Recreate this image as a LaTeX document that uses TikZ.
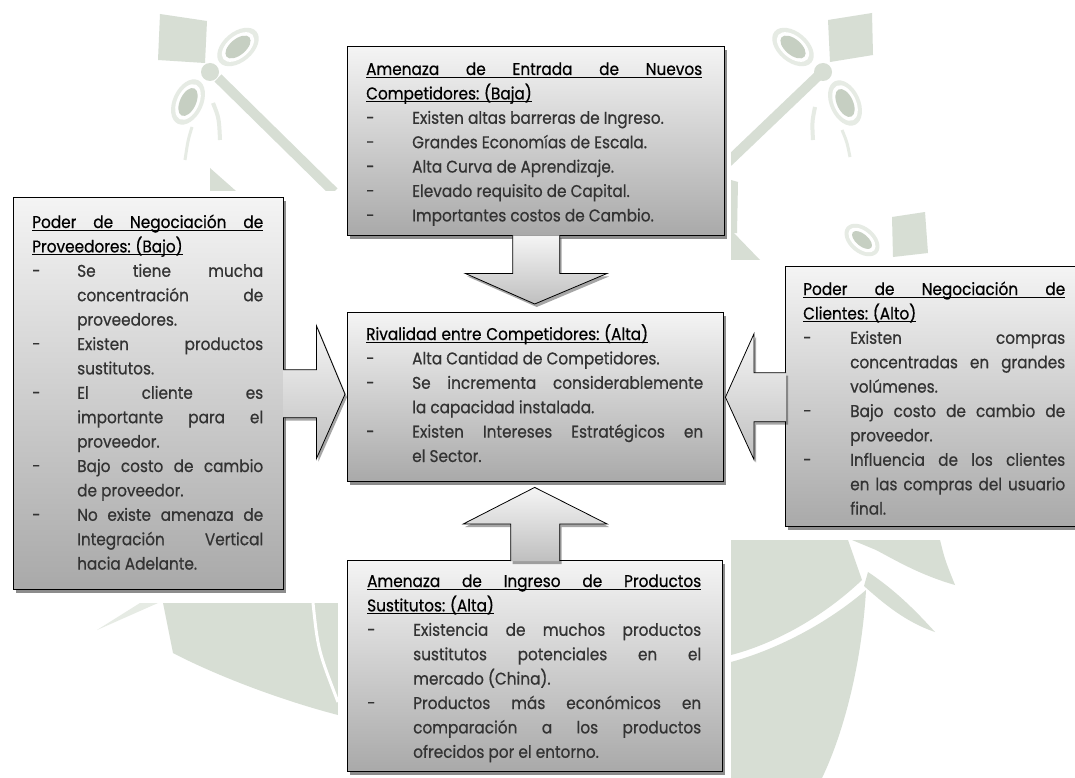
\documentclass[tikz,border=0pt]{standalone}
\usepackage{fontspec}
\setmainfont{Poppins}[FakeStretch=0.9, FakeBold=0.6]
\usetikzlibrary{calc,shadows}

\definecolor{wmgreen}{HTML}{D7DED4}
\definecolor{wmlight}{HTML}{E6EBE4}
\definecolor{wmdark}{HTML}{C6CFC2}
\definecolor{txtgray}{HTML}{333333}
\definecolor{boxtop}{HTML}{F4F4F4}
\definecolor{boxbot}{HTML}{A9A9A9}

% underlined heading whose word gaps stretch with justification
\newcommand\ulw[1]{\setbox0\hbox{#1}\rlap{\rule[-3pt]{\wd0}{1pt}}\box0}
\newcommand\ulsp{\leaders\hrule height -2pt depth 3pt\hskip 0.28em plus 1em minus 0.05em}
\def\ultitle#1{\leavevmode\ulloop#1 \ulend}
\def\ulloop#1 #2\ulend{\ulw{#1}\if\relax\detokenize{#2}\relax\else\ulsp\ulloop#2\ulend\fi}
\newcommand\heading[1]{\noindent{\color{black}#1}\par}

% hanging list item: dash at the margin, text indented
\newlength\dashw
\newcommand\itm[1]{\noindent\hangindent=\dashw\hangafter=1\makebox[\dashw][l]{-}#1\par}

\tikzset{
  panel/.style={draw=black, line width=1.4pt, top color=boxtop, bottom color=boxbot,
    inner sep=0pt, anchor=north west,
    drop shadow={shadow xshift=2pt, shadow yshift=-3pt, opacity=.45, fill=black}},
  paneltext/.style={anchor=base west, inner sep=0pt, align=justify,
    font=\fontsize{17}{24.4}\selectfont, text=txtgray},
  blockarrow/.style={top color=gray!8, bottom color=gray!50, draw=black,
    line width=0.8pt, line join=miter,
    preaction={fill=black, opacity=.35, transform canvas={xshift=2pt, yshift=-3pt}}},
}

\begin{document}
\begin{tikzpicture}[x=1pt, y=-1pt]
\useasboundingbox (0,0) rectangle (1075,778);
\fill[white] (0,0) rectangle (1075,778);

% ---- background emblem ----
% upper left
\fill[wmgreen] (160,14) -- (207,21) -- (205,63) -- (158,60) -- cycle;
\draw[wmgreen, line width=10pt] (218,78) -- (334,192);
\fill[wmgreen] (210,72) circle [radius=9pt];
\fill[wmlight, rotate around={40:(238,47)}] (238,47) ellipse [x radius=24pt, y radius=15pt];
\fill[white, rotate around={40:(238,47)}] (238,47) ellipse [x radius=19pt, y radius=11pt];
\fill[wmdark, rotate around={40:(238,47)}] (238,47) ellipse [x radius=15pt, y radius=8pt];
\fill[wmlight, rotate around={65:(188,102)}] (188,102) ellipse [x radius=24pt, y radius=15pt];
\fill[white, rotate around={65:(188,102)}] (188,102) ellipse [x radius=19pt, y radius=11pt];
\fill[wmdark, rotate around={65:(188,102)}] (188,102) ellipse [x radius=15pt, y radius=8pt];
\draw[wmlight, line width=4pt] (213,103) .. controls (219,118) .. (220,140);
\draw[wmlight, line width=3pt] (192,127) .. controls (188,140) .. (185,160);
\fill[wmgreen] (210,168) -- (236,191) -- (210,191) -- cycle;
% upper right
\fill[wmgreen] (828,20) -- (872,13) -- (873,55) -- (830,62) -- cycle;
\draw[wmgreen, line width=10pt] (818,76) -- (728,162);
\fill[wmgreen] (823,72) circle [radius=9pt];
\fill[wmlight, rotate around={-40:(793,47)}] (793,47) ellipse [x radius=24pt, y radius=15pt];
\fill[white, rotate around={-40:(793,47)}] (793,47) ellipse [x radius=19pt, y radius=11pt];
\fill[wmdark, rotate around={-40:(793,47)}] (793,47) ellipse [x radius=15pt, y radius=8pt];
\fill[wmlight, rotate around={-65:(845,103)}] (845,103) ellipse [x radius=24pt, y radius=15pt];
\fill[white, rotate around={-65:(845,103)}] (845,103) ellipse [x radius=19pt, y radius=11pt];
\fill[wmdark, rotate around={-65:(845,103)}] (845,103) ellipse [x radius=15pt, y radius=8pt];
\draw[wmlight, line width=4pt] (815,107) .. controls (812,122) .. (813,140);
\draw[wmlight, line width=3pt] (842,130) .. controls (847,142) .. (850,157);
\fill[wmgreen] (731,180) -- (738,182) -- (737,233) -- (731,233) -- cycle;
\fill[wmgreen] (892,217) -- (925,212) -- (928,253) -- (893,257) -- cycle;
\fill[wmlight, rotate around={-40:(862,240)}] (862,240) ellipse [x radius=20pt, y radius=13pt];
\fill[white, rotate around={-40:(862,240)}] (862,240) ellipse [x radius=16pt, y radius=9pt];
\fill[wmdark, rotate around={-40:(862,240)}] (862,240) ellipse [x radius=12pt, y radius=6pt];
\fill[wmgreen] (731,230) -- (760,260) -- (731,260) -- cycle;
% lower left
\fill[wmgreen] (163,603) -- (338,603) -- (338,715)
  .. controls (280,700) and (215,675) .. (173,653) -- cycle;
\draw[white, line width=3pt] (313,603) .. controls (318,650) .. (338,702);
\fill[wmlight] (97,630) -- (140,603) -- (158,603) -- cycle;
% lower right
\fill[wmgreen] (731,540) -- (848,540) .. controls (855,560) .. (862,580)
  .. controls (820,620) and (770,645) .. (731,655) -- cycle;
\fill[wmgreen] (731,662) .. controls (775,650) and (825,625) .. (866,590)
  .. controls (862,660) and (845,730) .. (822,778) -- (731,778) -- cycle;
\fill[wmgreen] (852,540) -- (940,540) .. controls (945,560) .. (955,585)
  .. controls (920,575) and (895,560) .. (876,550) -- cycle;
\fill[wmgreen] (868,572) .. controls (895,590) and (915,610) .. (935,632)
  .. controls (905,622) and (882,602) .. (864,586) -- cycle;

% white sheet carrying the diagram
\fill[white] (338,0) rectangle (731,778);
\fill[white] (0,191) rectangle (338,603);
\fill[white] (731,260) rectangle (1075,540);

% ---- panels ----
\node[panel, minimum width=377pt, minimum height=189pt] (top) at (347,46) {};
\node[panel, minimum width=376pt, minimum height=169pt] (center) at (347,312) {};
\node[panel, minimum width=375pt, minimum height=211pt] (bottom) at (347,560) {};
\node[panel, minimum width=270pt, minimum height=392pt] (left) at (13,197) {};
\node[panel, minimum width=297pt, minimum height=260pt] (right) at (785,266) {};

% ---- block arrows ----
% top -> center
\coordinate (tH) at ($(top.south)+(0,37)$);
\coordinate (tA) at ($(top.south)+(-23.5,-1)$);
\coordinate (tB) at ($(top.south)+(23.5,-1)$);
\path[blockarrow] (tA) -- (tA |- tH) -- ($(tH)+(-71,0)$) -- ($(center.north)+(-1,-8)$)
  -- ($(tH)+(71,0)$) -- (tB |- tH) -- (tB);
% bottom -> center
\coordinate (bH) at ($(bottom.north)+(0,-36)$);
\coordinate (bA) at ($(bottom.north)+(-24.5,1)$);
\coordinate (bB) at ($(bottom.north)+(24.5,1)$);
\path[blockarrow] (bA) -- (bA |- bH) -- ($(bH)+(-72,0)$) -- ($(center.south)+(-1,5)$)
  -- ($(bH)+(72,0)$) -- (bB |- bH) -- (bB);
% left -> center
\coordinate (lH) at ($(left.east)+(32,0)$);
\coordinate (lA) at ($(left.east)+(-1,-24)$);
\coordinate (lB) at ($(left.east)+(-1,24)$);
\path[blockarrow] (lA) -- (lA -| lH) -- ($(lH)+(0,-68)$) -- ($(center.west)+(-2,-3)$)
  -- ($(lH)+(0,65)$) -- (lB -| lH) -- (lB);
% right -> center
\coordinate (rH) at ($(right.west)+(-31,0)$);
\coordinate (rA) at ($(right.west)+(1,-24)$);
\coordinate (rB) at ($(right.west)+(1,25)$);
\path[blockarrow] (rA) -- (rA -| rH) -- ($(rH)+(0,-63)$) -- ($(center.east)+(1,0)$)
  -- ($(rH)+(0,63)$) -- (rB -| rH) -- (rB);

% ---- panel texts ----
\setlength\dashw{46pt}
\node[paneltext, text width=336pt] (toptext) at (366,75) {%
  \heading{\ultitle{Amenaza de Entrada de Nuevos}\linebreak \ultitle{Competidores: (Baja)}}%
  \itm{Existen altas barreras de Ingreso.}%
  \itm{Grandes Economías de Escala.}%
  \itm{Alta Curva de Aprendizaje.}%
  \itm{Elevado requisito de Capital.}%
  \itm{Importantes costos de Cambio.}};

\node[paneltext, text width=337pt] (centertext) at (366,340) {%
  \heading{\ultitle{Rivalidad entre Competidores: (Alta)}}%
  \itm{Alta Cantidad de Competidores.}%
  \itm{Se incrementa considerablemente\linebreak la capacidad instalada.}%
  \itm{Existen Intereses Estratégicos en\linebreak el Sector.}};

\node[paneltext, text width=334pt] (bottomtext) at (367,587) {%
  \heading{\ultitle{Amenaza de Ingreso de Productos}\linebreak \ultitle{Sustitutos: (Alta)}}%
  \itm{Existencia de muchos productos\linebreak sustitutos potenciales en el\linebreak mercado (China).}%
  \itm{Productos más económicos en\linebreak comparación a los productos\linebreak ofrecidos por el entorno.}};

\setlength\dashw{45pt}
\node[paneltext, text width=231pt] (lefttext) at (32,228) {%
  \heading{\ultitle{Poder de Negociación de}\linebreak \ultitle{Proveedores: (Bajo)}}%
  \itm{Se tiene mucha\linebreak concentración de\linebreak proveedores.}%
  \itm{Existen productos\linebreak sustitutos.}%
  \itm{El cliente es\linebreak importante para el\linebreak proveedor.}%
  \itm{Bajo costo de cambio\linebreak de proveedor.}%
  \itm{No existe amenaza de\linebreak Integración Vertical\linebreak hacia Adelante.}};

\setlength\dashw{47pt}
\node[paneltext, text width=262pt] (righttext) at (803,295) {%
  \heading{\ultitle{Poder de Negociación de}\linebreak \ultitle{Clientes: (Alto)}}%
  \itm{Existen compras\linebreak concentradas en grandes\linebreak volúmenes.}%
  \itm{Bajo costo de cambio de\linebreak proveedor.}%
  \itm{Influencia de los clientes\linebreak en las compras del usuario\linebreak final.}};
\end{tikzpicture}
\end{document}
